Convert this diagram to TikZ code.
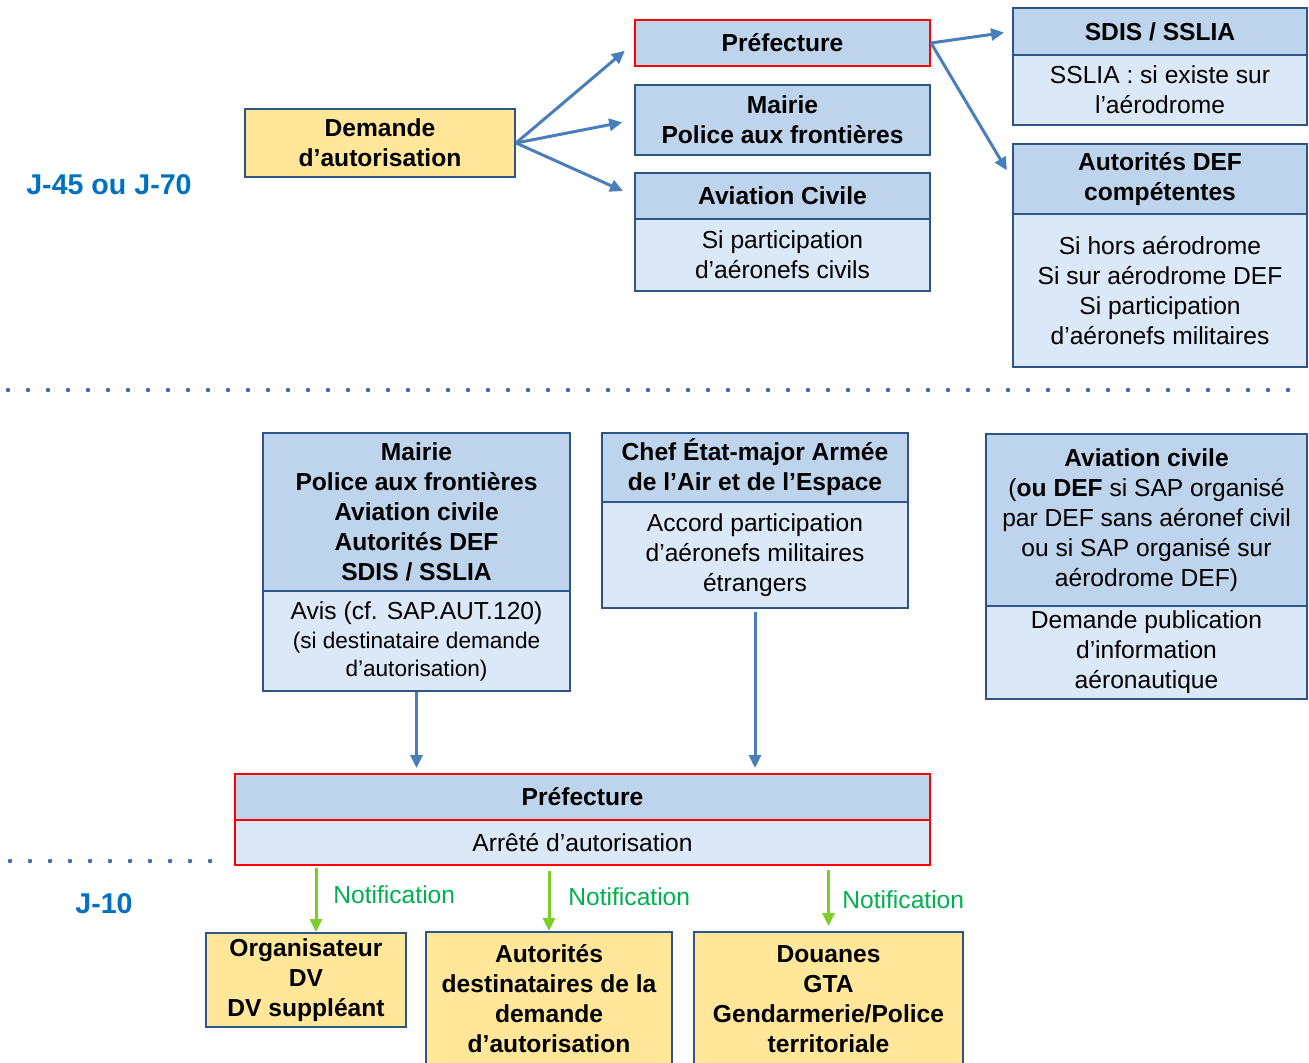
\documentclass[tikz,border=0pt]{standalone}
\usepackage{fontspec}
\setmainfont{Liberation Sans}
\usetikzlibrary{arrows.meta}
\definecolor{hdrfill}{RGB}{189,212,236}
\definecolor{bodyfill}{RGB}{218,232,247}
\definecolor{bordercol}{RGB}{47,85,135}
\definecolor{redcol}{RGB}{255,0,0}
\definecolor{yfill}{RGB}{255,230,153}
\definecolor{arrowblue}{RGB}{74,126,187}
\definecolor{arrowgreen}{RGB}{125,205,40}
\definecolor{notifgreen}{RGB}{0,176,80}
\definecolor{jblue}{RGB}{0,112,192}
\definecolor{dotblue}{RGB}{63,106,168}
\begin{document}
\begin{tikzpicture}[x=0.5pt,y=-0.5pt,
  box/.style={draw=bordercol, line width=1pt, inner sep=0pt, anchor=north west, align=center, font=\fontsize{12.3}{15}\selectfont},
  hdr/.style={box, fill=hdrfill, font=\fontsize{12.3}{15}\selectfont\bfseries},
  bdy/.style={box, fill=bodyfill},
  ybox/.style={box, fill=yfill, font=\fontsize{12.3}{15}\selectfont\bfseries},
  redb/.style={draw=redcol},
  bluearrow/.style={draw=arrowblue, line width=1.5pt, -{Triangle[length=6.5pt,width=6pt]}},
  greenarrow/.style={draw=arrowgreen, line width=1.5pt, -{Triangle[length=6.5pt,width=6pt]}},
  notif/.style={text=notifgreen, font=\fontsize{12.3}{15}\selectfont, anchor=west, inner sep=0pt},
  jlabel/.style={text=jblue, font=\fontsize{14.3}{17}\selectfont\bfseries, inner sep=0pt},
  dotline/.style={draw=dotblue, line width=2.2pt, line cap=round, dash pattern=on 0pt off 10pt}
]
\useasboundingbox (0,0) rectangle (1309,1063);
\clip (0,0) rectangle (1309,1063);

% ---------- top section ----------
\node[ybox, minimum width=135pt, minimum height=34pt] (dem) at (244,108) {Demande\\d’autorisation};
\node[jlabel] (j45) at (109,185) {J-45 ou J-70};

\node[hdr, redb, minimum width=147.5pt, minimum height=23pt] (pref1) at (634,19) {Préfecture};
\node[hdr, minimum width=147.5pt, minimum height=35pt] (mairie1) at (634,84) {Mairie\\Police aux frontières};
\node[hdr, minimum width=147.5pt, minimum height=23pt] (avc1h) at (634,172) {Aviation Civile};
\node[bdy, minimum width=147.5pt, minimum height=36pt] (avc1b) at (634,218) {Si participation\\d’aéronefs civils};

\node[hdr, minimum width=147pt, minimum height=23.5pt] (sdish) at (1012,7) {SDIS / SSLIA};
\node[bdy, minimum width=147pt, minimum height=35pt] (sdisb) at (1012,54) {SSLIA : si existe sur\\l’aérodrome};
\node[hdr, minimum width=147pt, minimum height=35pt] (defh) at (1012,143) {Autorités DEF\\compétentes};
\node[bdy, minimum width=147pt, minimum height=76.5pt] (defb) at (1012,213) {Si hors aérodrome\\Si sur aérodrome DEF\\Si participation\\d’aéronefs militaires};

\draw[bluearrow, shorten >=6pt] (dem.east) -- (pref1.west);
\draw[bluearrow, shorten >=6pt] (dem.east) -- (mairie1.west);
\draw[bluearrow, shorten >=6pt] (dem.east) -- (avc1h.west);
\draw[bluearrow, shorten >=4pt] (pref1.east) -- (sdish.west);
\draw[bluearrow, shorten >=5pt] (pref1.east) -- (defh.west);

% ---------- separators ----------
\draw[dotline] (8,390) -- (1290,390);
\draw[dotline] (10,861) -- (212,861);

% ---------- bottom section ----------
\node[hdr, minimum width=153.5pt, minimum height=79pt] (mair2h) at (262,432) {Mairie\\Police aux frontières\\Aviation civile\\Autorités DEF\\SDIS / SSLIA};
\node[bdy, minimum width=153.5pt, minimum height=50pt] (mair2b) at (262,590) {Avis (cf. SAP.AUT.120)\\[-0.5pt]{\fontsize{11.3}{14}\selectfont (si destinataire demande}\\[-1pt]{\fontsize{11.3}{14}\selectfont d’autorisation)}};

\node[hdr, minimum width=153pt, minimum height=34.5pt] (chefh) at (601,432) {Chef État-major Armée\\de l’Air et de l’Espace};
\node[bdy, minimum width=153pt, minimum height=53pt] (chefb) at (601,501) {Accord participation\\d’aéronefs militaires\\étrangers};

\node[hdr, font=\fontsize{12.3}{15}\selectfont, minimum width=160.5pt, minimum height=86pt] (avc2h) at (985,433) {\textbf{Aviation civile}\\(\textbf{ou DEF} si SAP organisé\\par DEF sans aéronef civil\\ou si SAP organisé sur\\aérodrome DEF)};
\node[bdy, minimum width=160.5pt, minimum height=46.5pt] (avc2b) at (985,605) {Demande publication\\d’information\\aéronautique};

\node[hdr, redb, minimum width=347.5pt, minimum height=23pt] (pref2h) at (234,773) {Préfecture};
\node[bdy, redb, minimum width=347.5pt, minimum height=22.5pt] (pref2b) at (234,819) {Arrêté d’autorisation};

\draw[bluearrow, shorten >=2.5pt] (mair2b.south) -- (mair2b.south |- pref2h.north);
\draw[bluearrow, shorten <=1.5pt, shorten >=2.5pt] (chefb.south) -- (chefb.south |- pref2h.north);

\node[jlabel] (j10) at (104,904) {J-10};

\node[ybox, minimum width=100pt, minimum height=47pt] (orga) at (205,932) {Organisateur\\DV\\DV suppléant};
\node[ybox, minimum width=123pt, minimum height=67pt] (autdest) at (425,931) {Autorités\\destinataires de la\\demande\\d’autorisation};
\node[ybox, minimum width=134.5pt, minimum height=67pt] (douanes) at (693,931) {Douanes\\GTA\\Gendarmerie/Police\\territoriale};

\coordinate (g1e) at ([xshift=5pt]orga.north);
\draw[greenarrow, shorten <=1pt] (g1e |- pref2b.south) -- (g1e);
\draw[greenarrow, shorten <=2.5pt] (autdest.north |- pref2b.south) -- (autdest.north);
\draw[greenarrow, shorten <=2pt, shorten >=2.5pt] (douanes.north |- pref2b.south) -- (douanes.north);

\node[notif] (n1) at (333,895) {Notification};
\node[notif] (n2) at (568,897) {Notification};
\node[notif] (n3) at (842,900) {Notification};
\end{tikzpicture}
\end{document}
